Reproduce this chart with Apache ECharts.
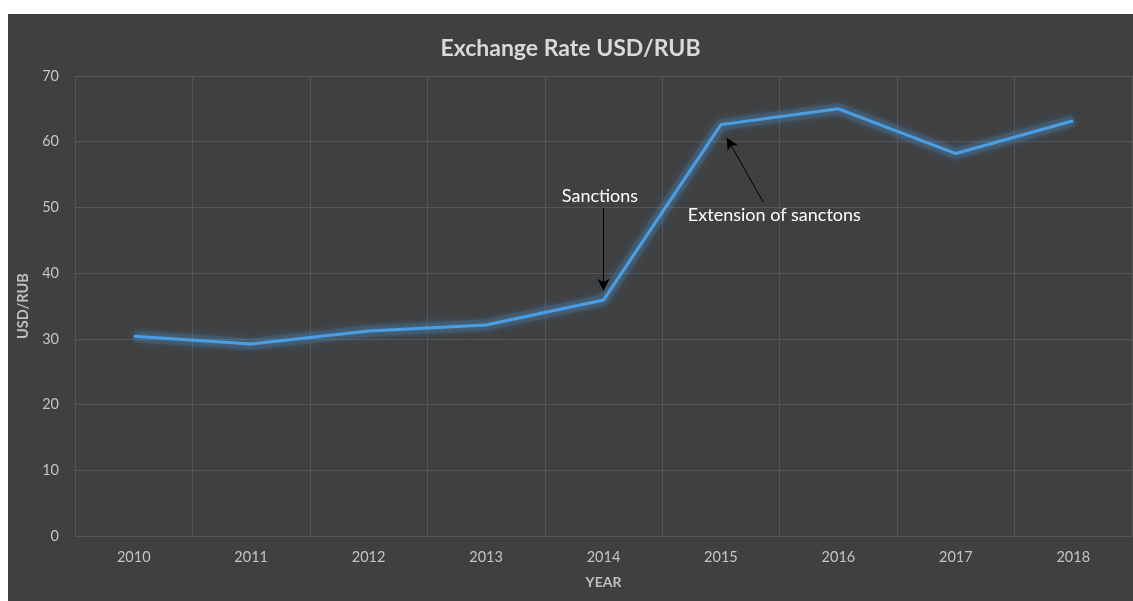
<!DOCTYPE html>
<html>
<head>
<meta charset="utf-8">
<script src="https://cdn.jsdelivr.net/npm/echarts@6/dist/echarts.min.js"></script>
<style>
html,body{margin:0;padding:0;background:#ffffff;}
#chart{position:absolute;left:8px;top:14px;width:1125px;height:587px;background:#404040;}
</style>
</head>
<body>
<div id="chart"></div>
<script>
var years = ['2010','2011','2012','2013','2014','2015','2016','2017','2018'];
var usdRub = [30.4, 29.2, 31.2, 32.1, 35.9, 62.6, 65.0, 58.2, 63.2];
var yTicks = [0, 10, 20, 30, 40, 50, 60, 70];
// annotations in data coordinates: [category position, value]
var sanctionsArrow = [[4.0, 49.9], [4.0, 37.3]];
var sanctionsLabel = [3.97, 51.7];
var extensionArrow = [[5.36, 50.8], [5.05, 60.6]];
var extensionLabel = [5.455, 48.8];

var font = 'Lato, "Open Sans", sans-serif';
var chart = echarts.init(document.getElementById('chart'));
chart.setOption({
  backgroundColor: '#404040',
  animation: false,
  title: {
    text: 'Exchange Rate USD/RUB',
    left: 'center',
    top: 18,
    textStyle: {color: '#d9d9d9', fontSize: 23, fontWeight: 'bold', fontFamily: font}
  },
  grid: {left: 67, right: 1, top: 62, bottom: 65},
  xAxis: [{
    type: 'category',
    data: years,
    boundaryGap: true,
    name: 'YEAR',
    nameLocation: 'middle',
    nameGap: 39,
    nameTextStyle: {color: '#bfbfbf', fontSize: 14, fontWeight: 'bold', fontFamily: font},
    axisLine: {show: true, lineStyle: {color: '#555555'}},
    axisTick: {show: false},
    axisLabel: {color: '#c4c4c4', fontSize: 14.5, margin: 14, fontFamily: font},
    splitLine: {show: true, interval: 0, lineStyle: {color: '#555555', width: 1}}
  }, {
    type: 'value', min: -0.5, max: 8.5, show: false
  }],
  yAxis: {
    type: 'value',
    min: yTicks[0],
    max: yTicks[yTicks.length - 1],
    interval: 10,
    name: 'USD/RUB',
    nameLocation: 'middle',
    nameGap: 36,
    nameTextStyle: {color: '#bfbfbf', fontSize: 14.5, fontWeight: 'bold', fontFamily: font},
    axisLine: {show: false},
    axisTick: {show: false},
    axisLabel: {color: '#c4c4c4', fontSize: 14.5, margin: 16, fontFamily: font},
    splitLine: {show: true, lineStyle: {color: '#555555', width: 1}}
  },
  series: [{
    // soft glow beneath the line
    type: 'line',
    data: usdRub,
    symbol: 'none',
    silent: true,
    lineStyle: {color: 'rgba(75,158,227,0.12)', width: 12, shadowColor: 'rgba(75,158,227,0.55)', shadowBlur: 18},
    z: 2
  }, {
    type: 'line',
    data: usdRub,
    symbol: 'none',
    lineStyle: {color: '#4b9ee3', width: 3, shadowColor: 'rgba(75,158,227,0.9)', shadowBlur: 8},
    z: 3
  }, {
    type: 'line',
    xAxisIndex: 1,
    data: [],
    silent: true,
    markLine: {
      silent: true,
      animation: false,
      symbol: ['none', 'arrow'],
      symbolSize: [9, 12],
      lineStyle: {color: '#000000', width: 1, type: 'solid'},
      label: {show: false},
      data: [
        [{coord: sanctionsArrow[0]}, {coord: sanctionsArrow[1]}],
        [{coord: extensionArrow[0]}, {coord: extensionArrow[1]}]
      ]
    },
    markPoint: {
      silent: true,
      symbol: 'circle',
      symbolSize: 0,
      label: {show: true, position: 'inside', color: '#ffffff', fontSize: 18, fontFamily: font},
      data: [
        {coord: sanctionsLabel, value: 'Sanctions', label: {formatter: 'Sanctions'}},
        {coord: extensionLabel, value: 'Extension of sanctons', label: {formatter: 'Extension of sanctons'}}
      ]
    }
  }]
});
</script>
</body>
</html>
